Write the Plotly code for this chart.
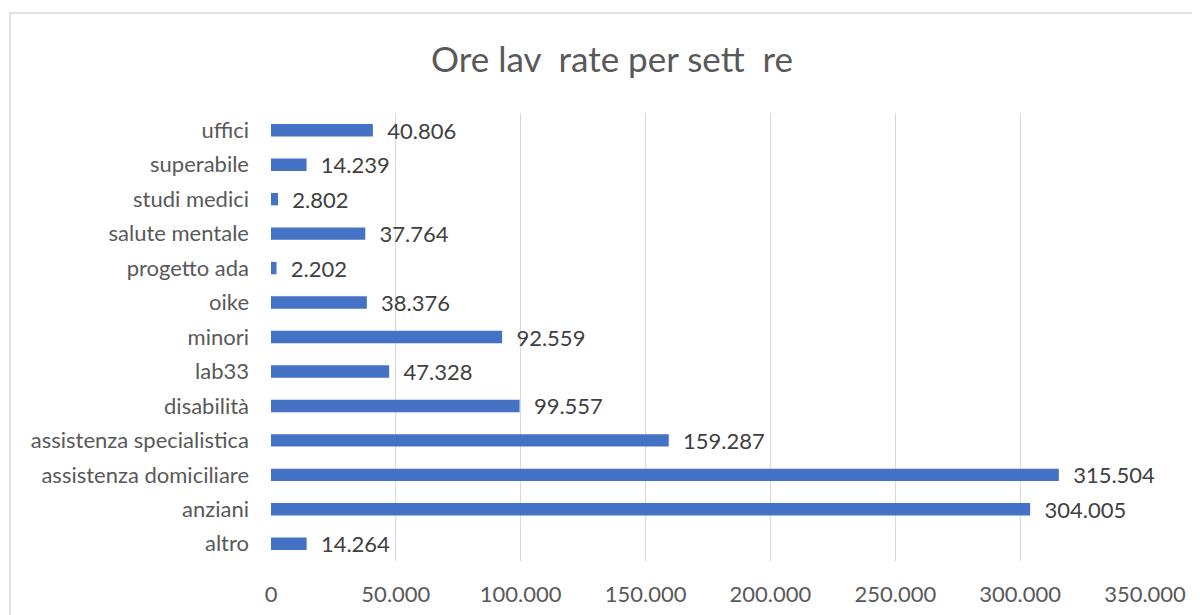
import plotly.graph_objects as go

categories = ["altro", "anziani", "assistenza domiciliare", "assistenza specialistica",
              "disabilità", "lab33", "minori", "oike", "progetto ada", "salute mentale",
              "studi medici", "superabile", "uffici"]
hours = [14264, 304005, 315504, 159287, 99557, 47328, 92559, 38376, 2202, 37764,
         2802, 14239, 40806]
tick_vals = [0, 50000, 100000, 150000, 200000, 250000, 300000, 350000]
title_text = "Ore lav\u00a0\u00a0rate per sett\u00a0\u00a0re"

FONT = "Lato, Calibri, Carlito, sans-serif"

fig = go.Figure(go.Bar(
    x=hours, y=categories, orientation="h",
    marker=dict(color="#4472C4", line=dict(width=0)),
    width=0.36,
    text=hours, texttemplate="\u00a0\u00a0%{x:,.0f}", textposition="outside",
    textfont=dict(family=FONT, size=22, color="#404040"),
    constraintext="none",
    cliponaxis=False,
))

OFF = 8  # page body margin
W, H = 1200, 615
L, T = 271 - OFF, 113 - OFF
pw, ph = 874, 448
R, B = W - L - pw, H - T - ph

def px_x(p):
    return (p - OFF - L) / pw

def px_y(p):
    return (T + ph - (p - OFF)) / ph

fig.update_layout(
    width=W, height=H,
    margin=dict(l=L, r=R, t=T, b=B, autoexpand=False),
    paper_bgcolor="white", plot_bgcolor="white",
    separators=",.",
    showlegend=False,
    title=dict(text=title_text, x=(612 - OFF) / W, xanchor="center",
               y=1 - (60 - OFF) / H, yanchor="middle",
               font=dict(family=FONT, size=35, color="#595959")),
    xaxis=dict(range=[0, 350000], tickvals=tick_vals, tickformat=",.0f",
               showgrid=True, gridcolor="#d9d9d9", gridwidth=1.3,
               zeroline=False, showline=False, ticks="",
               tickfont=dict(family=FONT, size=22, color="#595959"), ticklabelstandoff=18),
    yaxis=dict(categoryorder="array", categoryarray=categories,
               range=[-0.5, len(categories) - 0.5],
               showgrid=False, zeroline=False, showline=False, ticks="",
               tickfont=dict(family=FONT, size=22, color="#595959"), ticklabelstandoff=21),
    shapes=[dict(type="rect", xref="paper", yref="paper",
                 x0=px_x(10), x1=px_x(1240), y0=px_y(650), y1=px_y(13),
                 line=dict(color="#d9d9d9", width=1.5), fillcolor="rgba(0,0,0,0)", layer="below")],
)

fig.write_html("out.html")
